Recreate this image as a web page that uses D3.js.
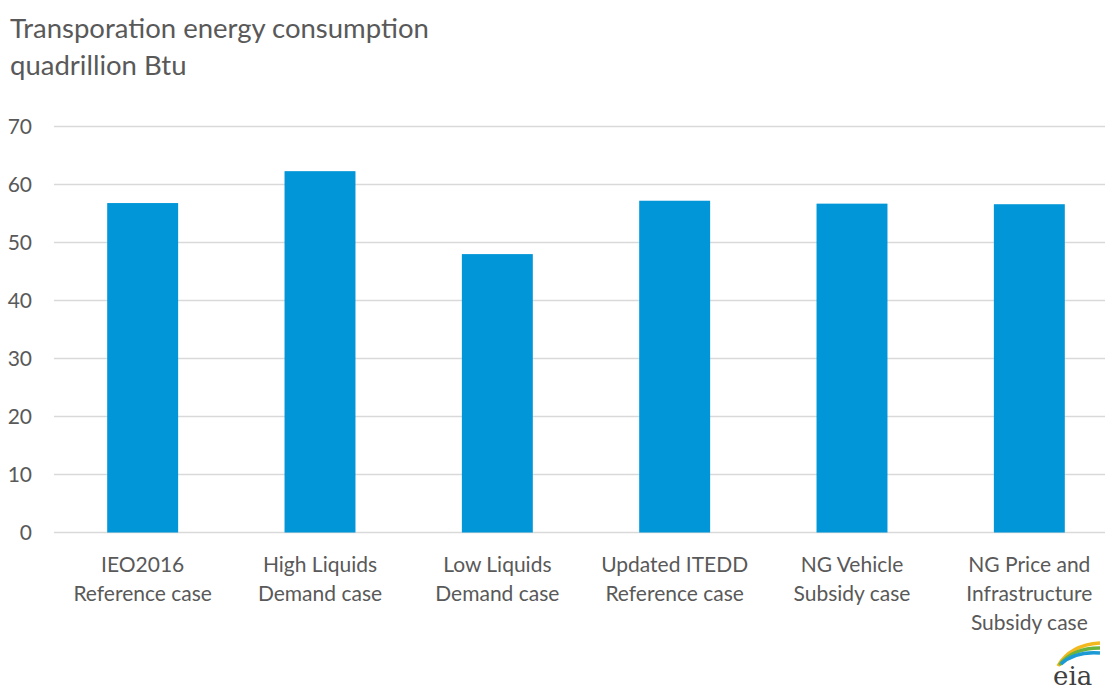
<!DOCTYPE html>
<html>
<head>
<meta charset="utf-8">
<script src="https://cdn.jsdelivr.net/npm/d3@7"></script>
<style>
  body { margin: 0; background: #fff; }
  svg text { font-family: Lato, "Open Sans", sans-serif; fill: #595959; }
</style>
</head>
<body>
<svg width="1105" height="690"></svg>
<script>
// chart data
const categories = [
  ["IEO2016", "Reference case"],
  ["High Liquids", "Demand case"],
  ["Low Liquids", "Demand case"],
  ["Updated ITEDD", "Reference case"],
  ["NG Vehicle", "Subsidy case"],
  ["NG Price and", "Infrastructure", "Subsidy case"]
];
const values = [56.8, 62.3, 48.0, 57.2, 56.7, 56.6];
const yTicks = [0, 10, 20, 30, 40, 50, 60, 70];

const titleLines = ["Transporation energy consumption", "quadrillion Btu"];

let svg = d3.select("svg");

let x = d3.scaleBand()
    .domain(categories.map((c, i) => i))
    .range([54, 1118])
    .paddingInner(0.6)
    .paddingOuter(0.3);

let y = d3.scaleLinear()
    .domain([0, 70])
    .range([532.5, 126.5]);

// title
svg.append("g").selectAll("text")
    .data(titleLines)
  .enter().append("text")
    .attr("x", 10)
    .attr("y", (d, i) => 38 + i * 37)
    .style("font-size", "27.5px")
    .text(d => d);

// gridlines
svg.append("g").selectAll("line")
    .data(yTicks)
  .enter().append("line")
    .attr("x1", 54)
    .attr("x2", 1105)
    .attr("y1", d => y(d))
    .attr("y2", d => y(d))
    .style("stroke", "#d9d9d9")
    .style("stroke-width", 1.5);

// y axis labels
let yAxis = d3.axisLeft(y).tickValues(yTicks).tickSize(0).tickPadding(0);
let ya = svg.append("g")
    .attr("transform", "translate(32,0)")
    .call(yAxis);
ya.select(".domain").remove();
ya.selectAll("text")
    .style("font-size", "21px")
    .style("font-family", "Lato, 'Open Sans', sans-serif")
    .attr("fill", "#595959");

// bars
svg.append("g").selectAll("rect")
    .data(values)
  .enter().append("rect")
    .attr("x", (d, i) => x(i))
    .attr("width", x.bandwidth())
    .attr("y", d => y(d))
    .attr("height", d => y(0) - y(d))
    .style("fill", "#0096d7");

// category labels
let cat = svg.append("g").selectAll("text")
    .data(categories)
  .enter().append("text")
    .attr("text-anchor", "middle")
    .style("font-size", "21px");
cat.each(function(lines, i) {
  d3.select(this).selectAll("tspan")
      .data(lines)
    .enter().append("tspan")
      .attr("x", x(i) + x.bandwidth() / 2)
      .attr("y", (d, j) => 572 + j * 29)
      .text(d => d);
});

// eia logo
let logo = svg.append("g").attr("transform", "translate(1046,640)");
[["#f2b81d", 0], ["#6ab43e", 5], ["#1c9ad6", 10]].forEach(([c, o]) => {
  logo.append("path")
      .attr("d", `M${12 + o * 0.3},${26 - o * 0.2} Q${24 + o * 0.5},${5 + o * 0.6} ${54},${3 + o}`)
      .style("fill", "none")
      .style("stroke", c)
      .style("stroke-width", 3.5);
});
logo.append("text")
    .attr("x", 7)
    .attr("y", 45)
    .style("font-family", "'DejaVu Serif', 'Liberation Serif', serif")
    .style("font-size", "26px")
    .style("fill", "#404040")
    .text("eia");
</script>
</body>
</html>
